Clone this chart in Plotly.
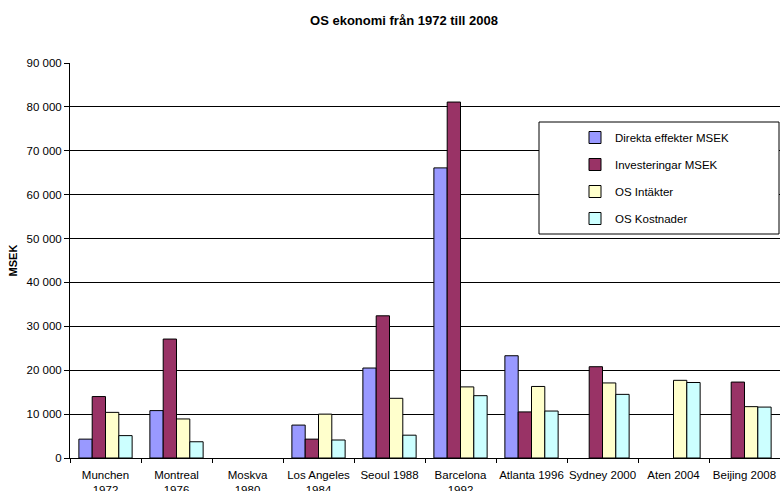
import plotly.graph_objects as go

categories = ["Munchen<br>1972", "Montreal<br>1976", "Moskva<br>1980", "Los Angeles<br>1984",
              "Seoul 1988", "Barcelona<br>1992", "Atlanta 1996", "Sydney 2000", "Aten 2004", "Beijing 2008"]
direkta = [4300, 10800, None, 7500, 20500, 66100, 23300, None, None, None]
investeringar = [14000, 27100, None, 4300, 32400, 81100, 10500, 20800, None, 17300]
intakter = [10400, 8900, None, 10000, 13600, 16200, 16300, 17100, 17700, 11700]
kostnader = [5100, 3700, None, 4100, 5200, 14200, 10700, 14500, 17200, 11600]

series_names = ["Direkta effekter MSEK", "Investeringar MSEK", "OS Intäkter", "OS Kostnader"]
series_values = [direkta, investeringar, intakter, kostnader]
colors = ["#9999FF", "#993366", "#FFFFCC", "#CCFFFF"]

tick_vals = [0, 10000, 20000, 30000, 40000, 50000, 60000, 70000, 80000, 90000]
tick_text = ["0", "10 000", "20 000", "30 000", "40 000", "50 000", "60 000", "70 000", "80 000", "90 000"]

FONT = "Arial, Liberation Sans, sans-serif"

fig = go.Figure()
for i, (name, vals, col) in enumerate(zip(series_names, series_values, colors)):
    fig.add_trace(go.Bar(
        x=categories, y=vals, name=name, legendgroup=f"g{i}",
        marker=dict(color=col, line=dict(color="#000000", width=1)),
    ))

W, H = 780, 491
L, R, T, B = 70, 0, 63, 33
pw, ph = W - L - R, H - T - B

def px_x(x):
    return (x - L) / pw

def px_y(y):
    return (H - B - y) / ph

fig.update_layout(
    width=W, height=H,
    margin=dict(l=L, r=R, t=T, b=B, autoexpand=False),
    paper_bgcolor="white", plot_bgcolor="white",
    font=dict(family=FONT, size=11.5, color="black"),
    title=dict(text="<b>OS ekonomi från 1972 till 2008</b>", x=404 / W, xanchor="center",
               y=1 - 20 / H, yanchor="middle", font=dict(size=13, family=FONT)),
    barmode="group", bargap=0.25, bargroupgap=0,
    showlegend=True,
    legend=dict(x=px_x(575), y=px_y(123), xanchor="left", yanchor="top",
                bgcolor="rgba(0,0,0,0)", borderwidth=0, traceorder="grouped",
                tracegroupgap=8, itemwidth=30, font=dict(size=11.5, family=FONT)),
    shapes=[dict(type="rect", xref="paper", yref="paper",
                 x0=px_x(539), x1=px_x(779), y0=px_y(234), y1=px_y(122),
                 line=dict(color="black", width=1), fillcolor="white", layer="above")],
    xaxis=dict(showline=True, linecolor="black", linewidth=1, ticks="outside",
               tickson="boundaries", ticklen=4, tickcolor="black", showgrid=False,
               tickangle=0, automargin=False, ticklabelstandoff=6,
               tickfont=dict(size=11.5, family=FONT)),
    yaxis=dict(range=[0, 90000], tickvals=tick_vals, ticktext=tick_text, automargin=False,
               showline=True, linecolor="black", linewidth=1, ticks="outside", ticklen=5,
               tickcolor="black", showgrid=True, gridcolor="#000000", gridwidth=1,
               zeroline=False, tickfont=dict(size=11.5, family=FONT),
               title=dict(text="<b>MSEK</b>", font=dict(size=11, family=FONT), standoff=6)),
)

fig.write_html("out.html")
